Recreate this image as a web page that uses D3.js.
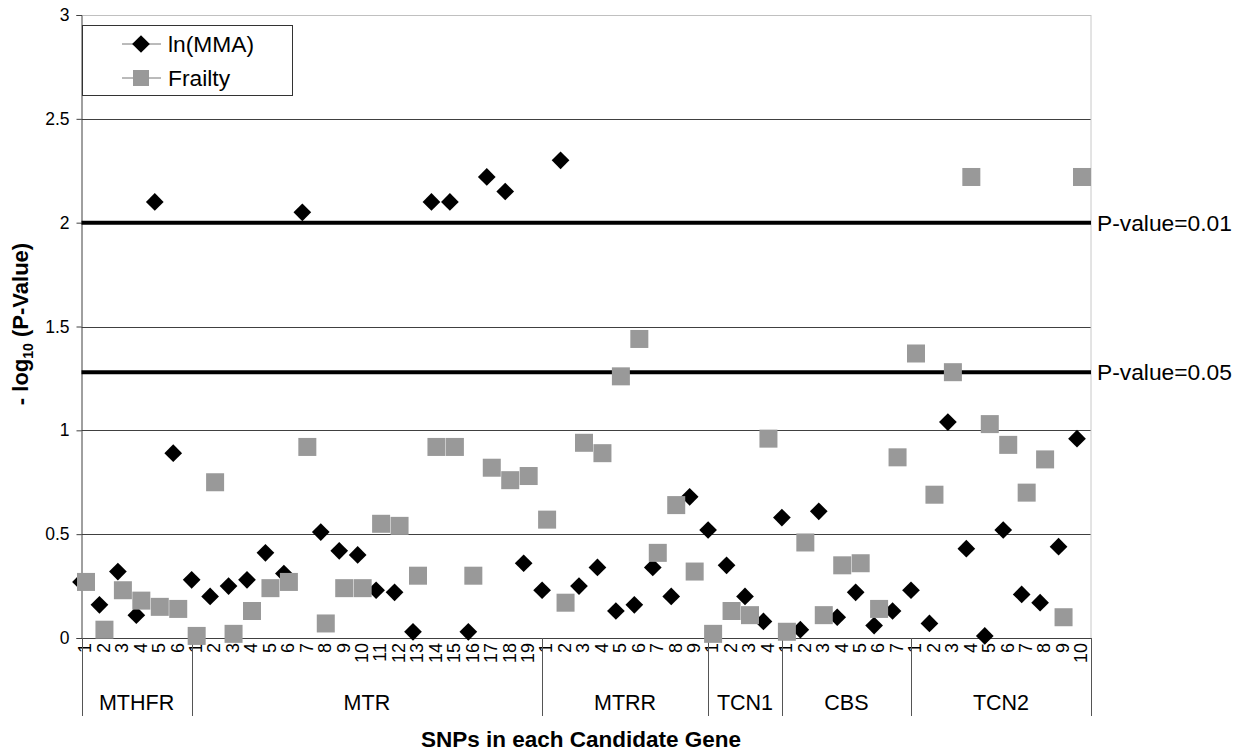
<!DOCTYPE html>
<html>
<head>
<meta charset="utf-8">
<script src="https://cdn.jsdelivr.net/npm/d3@7"></script>
<style>
  body { margin: 0; background: #fff; }
  text { font-family: Arial, "Liberation Sans", sans-serif; }
</style>
</head>
<body>
<div id="chart"></div>
<script>
// genes and how many SNPs each one has
var genes = ['MTHFR', 'MTR', 'MTRR', 'TCN1', 'CBS', 'TCN2'];
var snpCounts = [6, 19, 9, 4, 7, 10];

// -log10(P) per SNP, in gene order
var lnMMA = [
  0.27, 0.16, 0.32, 0.11, 2.10, 0.89,
  0.28, 0.20, 0.25, 0.28, 0.41, 0.31, 2.05, 0.51, 0.42, 0.40, 0.23, 0.22, 0.03, 2.10, 2.10, 0.03, 2.22, 2.15, 0.36,
  0.23, 2.30, 0.25, 0.34, 0.13, 0.16, 0.34, 0.20, 0.68,
  0.52, 0.35, 0.20, 0.08,
  0.58, 0.04, 0.61, 0.10, 0.22, 0.06, 0.13,
  0.23, 0.07, 1.04, 0.43, 0.01, 0.52, 0.21, 0.17, 0.44, 0.96
];
var frailty = [
  0.27, 0.04, 0.23, 0.18, 0.15, 0.14,
  0.01, 0.75, 0.02, 0.13, 0.24, 0.27, 0.92, 0.07, 0.24, 0.24, 0.55, 0.54, 0.30, 0.92, 0.92, 0.30, 0.82, 0.76, 0.78,
  0.57, 0.17, 0.94, 0.89, 1.26, 1.44, 0.41, 0.64, 0.32,
  0.02, 0.13, 0.11, 0.96,
  0.03, 0.46, 0.11, 0.35, 0.36, 0.14, 0.87,
  1.37, 0.69, 1.28, 2.22, 1.03, 0.93, 0.70, 0.86, 0.10, 2.22
];
var yTicks = [0, 0.5, 1, 1.5, 2, 2.5, 3];
var thresholds = [2, 1.28];
var thresholdLabels = ['P-value=0.01', 'P-value=0.05'];

var width = 1251, height = 751;
var plotLeft = 81.5, plotRight = 1091, plotTop = 15, plotBottom = 638;
var total = d3.sum(snpCounts);

var svg = d3.select('#chart').append('svg')
    .attr('width', width)
    .attr('height', height);

// x scale over SNP index
var x = d3.scaleLinear().domain([0, total - 1]).range([81, 1077]);
var y = d3.scaleLinear().domain([0, 3]).range([plotBottom, plotTop]);

// build per-SNP rows
var rows = [];
var bounds = [0];
genes.forEach(function(g, gi) {
  for (var k = 0; k < snpCounts[gi]; k++) {
    rows.push({ gene: g, num: k + 1, idx: rows.length });
  }
  bounds.push(rows.length);
});

// gridlines
svg.append('g').selectAll('line')
    .data(yTicks)
    .join('line')
    .attr('x1', plotLeft).attr('x2', plotRight)
    .attr('y1', function(d) { return Math.round(y(d)) + 0.5; })
    .attr('y2', function(d) { return Math.round(y(d)) + 0.5; })
    .attr('stroke', function(d) { return d === 3 ? '#c0c0c0' : '#404040'; })
    .attr('stroke-width', 1);

// right border
svg.append('line')
    .attr('x1', plotRight).attr('x2', plotRight)
    .attr('y1', plotTop).attr('y2', plotBottom)
    .attr('stroke', '#c8c8c8');

// y axis
var yAxis = svg.append('g')
    .attr('transform', 'translate(' + plotLeft + ',0)')
    .call(d3.axisLeft(y).tickValues(yTicks).tickSize(5).tickFormat(d3.format('')));
yAxis.select('.domain').attr('stroke', '#404040');
yAxis.selectAll('.tick line').attr('stroke', '#404040');
yAxis.selectAll('.tick text')
    .style('font-size', '17.5px')
    .attr('fill', '#000')
    .attr('x', -12);

// threshold lines
svg.append('g').selectAll('line')
    .data(thresholds)
    .join('line')
    .attr('x1', plotLeft).attr('x2', plotRight)
    .attr('y1', function(d) { return y(d); })
    .attr('y2', function(d) { return y(d); })
    .attr('stroke', '#000')
    .attr('stroke-width', 4);

svg.append('g').selectAll('text')
    .data(thresholds)
    .join('text')
    .attr('x', plotRight + 6)
    .attr('y', function(d) { return y(d); })
    .attr('dy', '0.35em')
    .style('font-size', '22.8px')
    .text(function(d, i) { return thresholdLabels[i]; });

// x tick labels (rotated)
svg.append('g').selectAll('text')
    .data(rows)
    .join('text')
    .attr('transform', function(d) { return 'translate(' + (x(d.idx) + 4) + ',643) rotate(-90)'; })
    .attr('text-anchor', 'end')
    .attr('dy', '0.35em')
    .style('font-size', '18px')
    .text(function(d) { return d.num; });

// gene separators
var sepX = bounds.map(function(b, i) { return i === bounds.length - 1 ? plotRight : x(b); });
sepX[0] = plotLeft;
svg.append('g').selectAll('line')
    .data(sepX)
    .join('line')
    .attr('x1', function(d) { return Math.round(d) + 0.5; })
    .attr('x2', function(d) { return Math.round(d) + 0.5; })
    .attr('y1', plotBottom).attr('y2', 716)
    .attr('stroke', '#555');

// gene names
svg.append('g').selectAll('text')
    .data(genes)
    .join('text')
    .attr('x', function(d, i) { return (sepX[i] + sepX[i + 1]) / 2; })
    .attr('y', 702)
    .attr('text-anchor', 'middle')
    .attr('dy', '0.35em')
    .style('font-size', '21.5px')
    .text(function(d) { return d; });

// axis titles
svg.append('text')
    .attr('x', 581).attr('y', 739)
    .attr('text-anchor', 'middle')
    .attr('dy', '0.35em')
    .style('font-size', '22.5px')
    .style('font-weight', 'bold')
    .text('SNPs in each Candidate Gene');

var yTitle = svg.append('text')
    .attr('transform', 'translate(20,324) rotate(-90)')
    .attr('text-anchor', 'middle')
    .attr('dy', '0.35em')
    .style('font-size', '22px')
    .style('font-weight', 'bold');
yTitle.append('tspan').text('- log');
yTitle.append('tspan').attr('dy', '5').style('font-size', '14px').text('10');
yTitle.append('tspan').attr('dy', '-5').text(' (P-Value)');

// markers
var diamond = d3.symbol().type(d3.symbolDiamond2).size(200);
svg.append('g').selectAll('path')
    .data(lnMMA)
    .join('path')
    .attr('d', diamond)
    .attr('transform', function(d, i) { return 'translate(' + x(i) + ',' + y(d) + ')'; })
    .attr('fill', '#000');

var sq = 18;
svg.append('g').selectAll('rect')
    .data(frailty)
    .join('rect')
    .attr('x', function(d, i) { return x(i) + 5 - sq / 2; })
    .attr('y', function(d) { return y(d) - sq / 2; })
    .attr('width', sq).attr('height', sq)
    .attr('fill', '#999999');

// legend
var legend = svg.append('g');
legend.append('rect')
    .attr('x', 82.5).attr('y', 25.5)
    .attr('width', 210).attr('height', 70)
    .attr('fill', '#fff')
    .attr('stroke', '#333');
var legendItems = [{ name: 'ln(MMA)', type: 'd' }, { name: 'Frailty', type: 's' }];
legendItems.forEach(function(it, i) {
  var ly = 44 + i * 34;
  legend.append('line')
    .attr('x1', 122).attr('x2', 161)
    .attr('y1', ly).attr('y2', ly)
    .attr('stroke', '#777');
  if (it.type === 'd') {
    legend.append('path').attr('d', diamond)
      .attr('transform', 'translate(141,' + ly + ')')
      .attr('fill', '#000');
  } else {
    legend.append('rect')
      .attr('x', 141 - 8).attr('y', ly - 8)
      .attr('width', 16).attr('height', 16)
      .attr('fill', '#999999');
  }
  legend.append('text')
    .attr('x', 168).attr('y', ly)
    .attr('dy', '0.35em')
    .style('font-size', '22.8px')
    .text(it.name);
});
</script>
</body>
</html>
